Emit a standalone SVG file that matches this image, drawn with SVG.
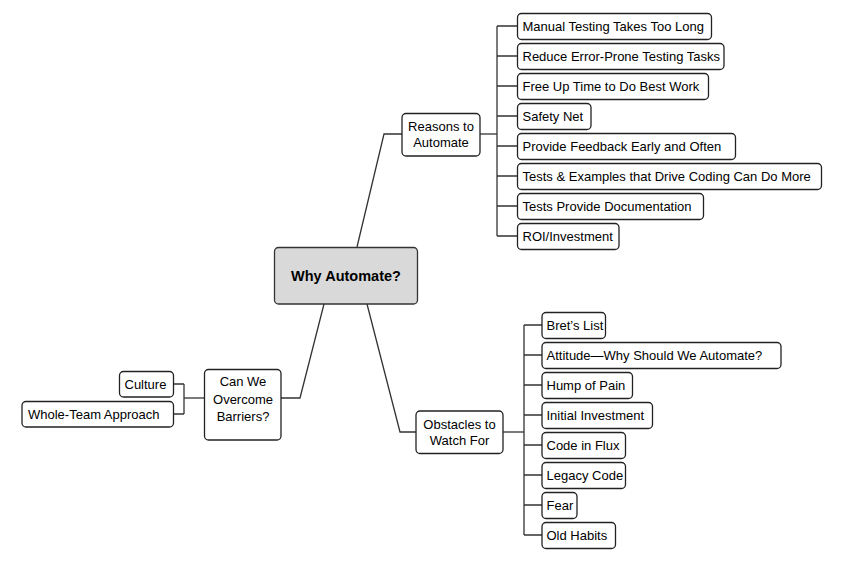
<svg xmlns="http://www.w3.org/2000/svg" width="841" height="568" viewBox="0 0 841 568">
<style>
.box{fill:#fff;stroke:#222;stroke-width:1.3}
.root{fill:#d9d9d9;stroke:#333;stroke-width:1.3}
.t{font-family:"Liberation Sans",Arial,sans-serif;font-size:13px;fill:#000}
.c{text-anchor:middle}
.b{font-weight:bold;font-size:14.5px}
.ln{fill:none;stroke:#333;stroke-width:1.3}
</style>
<rect width="841" height="568" fill="#fff"/>
<g id="connectors">
<polyline class="ln" points="357,247 384,134 402,134"/>
<polyline class="ln" points="480,134 497,134"/>
<line class="ln" x1="497" y1="26" x2="497" y2="236"/>
<path class="ln" d="M497,26H517M497,56H517M497,86H517M497,116H517M497,146H517M497,176H517M497,206H517M497,236H517"/>
<polyline class="ln" points="324,304 300,398 281,398"/>
<polyline class="ln" points="204,398 184,398"/>
<line class="ln" x1="184" y1="384" x2="184" y2="414"/>
<path class="ln" d="M173,384H184M173,414H184"/>
<polyline class="ln" points="367,304 400,432 416,432"/>
<polyline class="ln" points="503,432 524,432"/>
<line class="ln" x1="524" y1="325" x2="524" y2="535"/>
<path class="ln" d="M524,325H542M524,355H542M524,385H542M524,415H542M524,445H542M524,475H542M524,505H542M524,535H542"/>
</g>
<g id="root">
<rect class="root" x="274.5" y="247.5" width="143" height="56.5" rx="4"/>
<text class="t c b" x="346" y="281">Why Automate?</text>
</g>
<g id="reasons">
<rect class="box" x="402" y="113.5" width="78" height="42.5" rx="4"/>
<text class="t c" x="441" y="130.5">Reasons to</text>
<text class="t c" x="441" y="147">Automate</text>
</g>
<g id="r1"><rect class="box" x="517.5" y="13.5" width="194" height="26" rx="4"/><text class="t" x="522.5" y="31">Manual Testing Takes Too Long</text></g>
<g id="r2"><rect class="box" x="517.5" y="43.5" width="206.5" height="26" rx="4"/><text class="t" x="522.5" y="61">Reduce Error-Prone Testing Tasks</text></g>
<g id="r3"><rect class="box" x="517.5" y="73.5" width="191" height="26" rx="4"/><text class="t" x="522.5" y="91">Free Up Time to Do Best Work</text></g>
<g id="r4"><rect class="box" x="517.5" y="103.5" width="73.5" height="26" rx="4"/><text class="t" x="522.5" y="121">Safety Net</text></g>
<g id="r5"><rect class="box" x="517.5" y="133.5" width="218" height="26" rx="4"/><text class="t" x="522.5" y="151">Provide Feedback Early and Often</text></g>
<g id="r6"><rect class="box" x="517.5" y="163.5" width="304" height="26" rx="4"/><text class="t" x="522.5" y="181">Tests &amp; Examples that Drive Coding Can Do More</text></g>
<g id="r7"><rect class="box" x="517.5" y="193.5" width="186" height="26" rx="4"/><text class="t" x="522.5" y="211">Tests Provide Documentation</text></g>
<g id="r8"><rect class="box" x="517.5" y="223.5" width="101.5" height="26" rx="4"/><text class="t" x="522.5" y="241">ROI/Investment</text></g>
<g id="barriers">
<rect class="box" x="204.5" y="369.5" width="76.5" height="70.5" rx="4"/>
<text class="t c" x="243" y="386">Can We</text>
<text class="t c" x="243" y="403.5">Overcome</text>
<text class="t c" x="243" y="421">Barriers?</text>
</g>
<g id="b1"><rect class="box" x="119.5" y="371.5" width="54" height="25.5" rx="4"/><text class="t" x="124.5" y="389">Culture</text></g>
<g id="b2"><rect class="box" x="22" y="401.5" width="151.5" height="25.5" rx="4"/><text class="t" x="28" y="419">Whole-Team Approach</text></g>
<g id="obstacles">
<rect class="box" x="416" y="411" width="87" height="42.5" rx="4"/>
<text class="t c" x="459.5" y="428.5">Obstacles to</text>
<text class="t c" x="459.5" y="444.5">Watch For</text>
</g>
<g id="o1"><rect class="box" x="542" y="312.5" width="63.5" height="26" rx="4"/><text class="t" x="546.5" y="330">Bret’s List</text></g>
<g id="o2"><rect class="box" x="542" y="342.5" width="239" height="26" rx="4"/><text class="t" x="546.5" y="360">Attitude—Why Should We Automate?</text></g>
<g id="o3"><rect class="box" x="542" y="372.5" width="90.5" height="26" rx="4"/><text class="t" x="546.5" y="390">Hump of Pain</text></g>
<g id="o4"><rect class="box" x="542" y="402.5" width="110.5" height="26" rx="4"/><text class="t" x="546.5" y="420">Initial Investment</text></g>
<g id="o5"><rect class="box" x="542" y="432.5" width="83.5" height="26" rx="4"/><text class="t" x="546.5" y="450">Code in Flux</text></g>
<g id="o6"><rect class="box" x="542" y="462.5" width="83.5" height="26" rx="4"/><text class="t" x="546.5" y="480">Legacy Code</text></g>
<g id="o7"><rect class="box" x="542" y="492.5" width="35" height="26" rx="4"/><text class="t" x="546.5" y="510">Fear</text></g>
<g id="o8"><rect class="box" x="542" y="522.5" width="73.5" height="26" rx="4"/><text class="t" x="546.5" y="540">Old Habits</text></g>
</svg>
